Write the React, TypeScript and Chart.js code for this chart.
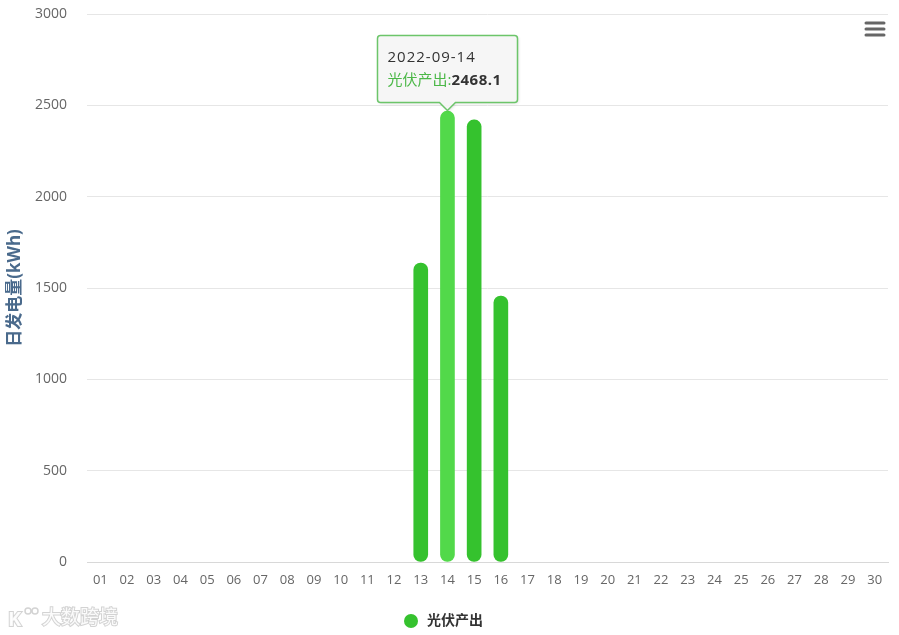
import React, { useEffect, useRef } from "react";
import { Chart, registerables } from "chart.js";
Chart.register(...registerables);

const days = ["01","02","03","04","05","06","07","08","09","10","11","12","13","14","15","16","17","18","19","20","21","22","23","24","25","26","27","28","29","30"];
const pvOutput: (number | null)[] = [null,null,null,null,null,null,null,null,null,null,null,null,1637,2468.1,2420,1456,null,null,null,null,null,null,null,null,null,null,null,null,null,null];
const yTicks = [0, 500, 1000, 1500, 2000, 2500, 3000];
const seriesName = "光伏产出";
const yTitle = "日发电量(kWh)";
const tooltipTitle = "2022-09-14";
const hoverIndex = 13;
const watermark = "大数跨境";

const FONT = "'Open Sans', 'Noto Sans CJK SC', sans-serif";
const BAR = "#35c22e";
const BAR_HOVER = "#52d94a";

const extrasPlugin = {
  id: "extras",
  afterDatasetsDraw(chart: any) {
    const ctx = chart.ctx;
    // tooltip
    const meta = chart.getDatasetMeta(0);
    const el = meta.data[hoverIndex];
    if (el) {
      const cx = el.x;
      const top = el.y;
      const w = 140, h = 67;
      const bx = Math.round(cx - w / 2) + 0.5;
      const by = Math.round(top - 9 - h) + 0.5;
      ctx.save();
      ctx.shadowColor = "rgba(0,0,0,0.15)";
      ctx.shadowOffsetX = 1;
      ctx.shadowOffsetY = 1;
      ctx.shadowBlur = 3;
      ctx.beginPath();
      ctx.moveTo(bx + 3, by);
      ctx.lineTo(bx + w - 3, by);
      ctx.quadraticCurveTo(bx + w, by, bx + w, by + 3);
      ctx.lineTo(bx + w, by + h - 3);
      ctx.quadraticCurveTo(bx + w, by + h, bx + w - 3, by + h);
      ctx.lineTo(cx + 8, by + h);
      ctx.lineTo(cx, by + h + 8);
      ctx.lineTo(cx - 8, by + h);
      ctx.lineTo(bx + 3, by + h);
      ctx.quadraticCurveTo(bx, by + h, bx, by + h - 3);
      ctx.lineTo(bx, by + 3);
      ctx.quadraticCurveTo(bx, by, bx + 3, by);
      ctx.closePath();
      ctx.fillStyle = "rgba(247,247,247,0.95)";
      ctx.fill();
      ctx.shadowColor = "transparent";
      ctx.strokeStyle = "#6cc56a";
      ctx.lineWidth = 1.5;
      ctx.stroke();
      ctx.textBaseline = "middle";
      ctx.textAlign = "left";
      ctx.font = `15px ${FONT}`;
      (ctx as any).letterSpacing = "1px";
      ctx.fillStyle = "#333333";
      ctx.fillText(tooltipTitle, bx + 10, by + 22);
      (ctx as any).letterSpacing = "0px";
      ctx.fillStyle = "#4cb848";
      const label = seriesName + ":";
      ctx.fillText(label, bx + 10, by + 45);
      const lw = ctx.measureText(label).width;
      ctx.font = `bold 15px ${FONT}`;
      (ctx as any).letterSpacing = "0.5px";
      ctx.fillStyle = "#333333";
      ctx.fillText(String(pvOutput[hoverIndex]), bx + 10 + lw, by + 45);
      (ctx as any).letterSpacing = "0px";
      ctx.restore();
    }
    // menu icon
    ctx.save();
    ctx.strokeStyle = "#666666";
    ctx.lineWidth = 3;
    ctx.lineCap = "round";
    for (const yy of [23, 29, 35]) {
      ctx.beginPath();
      ctx.moveTo(866, yy);
      ctx.lineTo(884, yy);
      ctx.stroke();
    }
    // legend
    ctx.beginPath();
    ctx.arc(411, 621, 7, 0, Math.PI * 2);
    ctx.fillStyle = BAR;
    ctx.fill();
    ctx.font = `bold 14px ${FONT}`;
    ctx.fillStyle = "#333333";
    ctx.textBaseline = "middle";
    ctx.textAlign = "left";
    ctx.fillText(seriesName, 427, 621);
    // watermark
    ctx.font = `19px ${FONT}`;
    ctx.lineWidth = 2;
    ctx.strokeStyle = "rgba(200,200,200,0.8)";
    ctx.fillStyle = "rgba(255,255,255,0.9)";
    ctx.strokeText(watermark, 42, 619);
    ctx.fillText(watermark, 42, 619);
    ctx.font = `bold 20px ${FONT}`;
    ctx.strokeText("K", 8, 620);
    ctx.fillText("K", 8, 620);
    ctx.lineWidth = 1.5;
    ctx.beginPath();
    ctx.arc(28, 611, 3, 0, Math.PI * 2);
    ctx.stroke();
    ctx.beginPath();
    ctx.arc(35, 611, 3, 0, Math.PI * 2);
    ctx.stroke();
    ctx.restore();
  },
};

export default function App() {
  const ref = useRef<HTMLCanvasElement>(null);
  useEffect(() => {
    document.body.style.margin = "0";
    const canvas = ref.current!;
    const chart = new Chart(canvas, {
      type: "bar",
      data: {
        labels: days,
        datasets: [
          {
            label: seriesName,
            data: pvOutput,
            backgroundColor: pvOutput.map((_, i) => (i === hoverIndex ? BAR_HOVER : BAR)),
            borderWidth: 0,
            borderRadius: 7,
            borderSkipped: false,
            barThickness: 14,
          },
        ],
      },
      options: {
        animation: false,
        responsive: false,
        layout: { padding: { top: 14, right: 11, bottom: 39, left: 0 } },
        plugins: {
          tooltip: { enabled: false },
          legend: { display: false },
          title: { display: false },
        },
        scales: {
          x: {
            grid: { display: false, drawTicks: false },
            border: { display: true, color: "#d8d8d8" },
            ticks: { color: "#666666", font: { family: FONT, size: 13 }, padding: 10, maxRotation: 0, autoSkip: false },
            afterFit: (s: any) => { s.height = 34; s.paddingLeft = 0; s.paddingRight = 0; },
          },
          y: {
            min: 0,
            max: 3000,
            afterBuildTicks: (s: any) => { s.ticks = yTicks.map((v) => ({ value: v })); },
            grid: { color: "#e6e6e6", drawTicks: false },
            border: { display: false },
            ticks: {
              color: "#666666",
              font: { family: FONT, size: 14 },
              padding: 20,
              callback: (v: any) => String(v),
            },
            title: {
              display: true,
              text: yTitle,
              color: "#4a6a8c",
              font: { family: FONT, size: 17, weight: "bold" },
              padding: { top: 5, bottom: 0 },
            },
            afterFit: (s: any) => { s.width = 87; s.paddingTop = 0; s.paddingBottom = 0; },
          },
        },
      },
      plugins: [extrasPlugin],
    });
    return () => chart.destroy();
  }, []);
  return <canvas ref={ref} width={899} height={635} style={{ display: "block" }} />;
}
